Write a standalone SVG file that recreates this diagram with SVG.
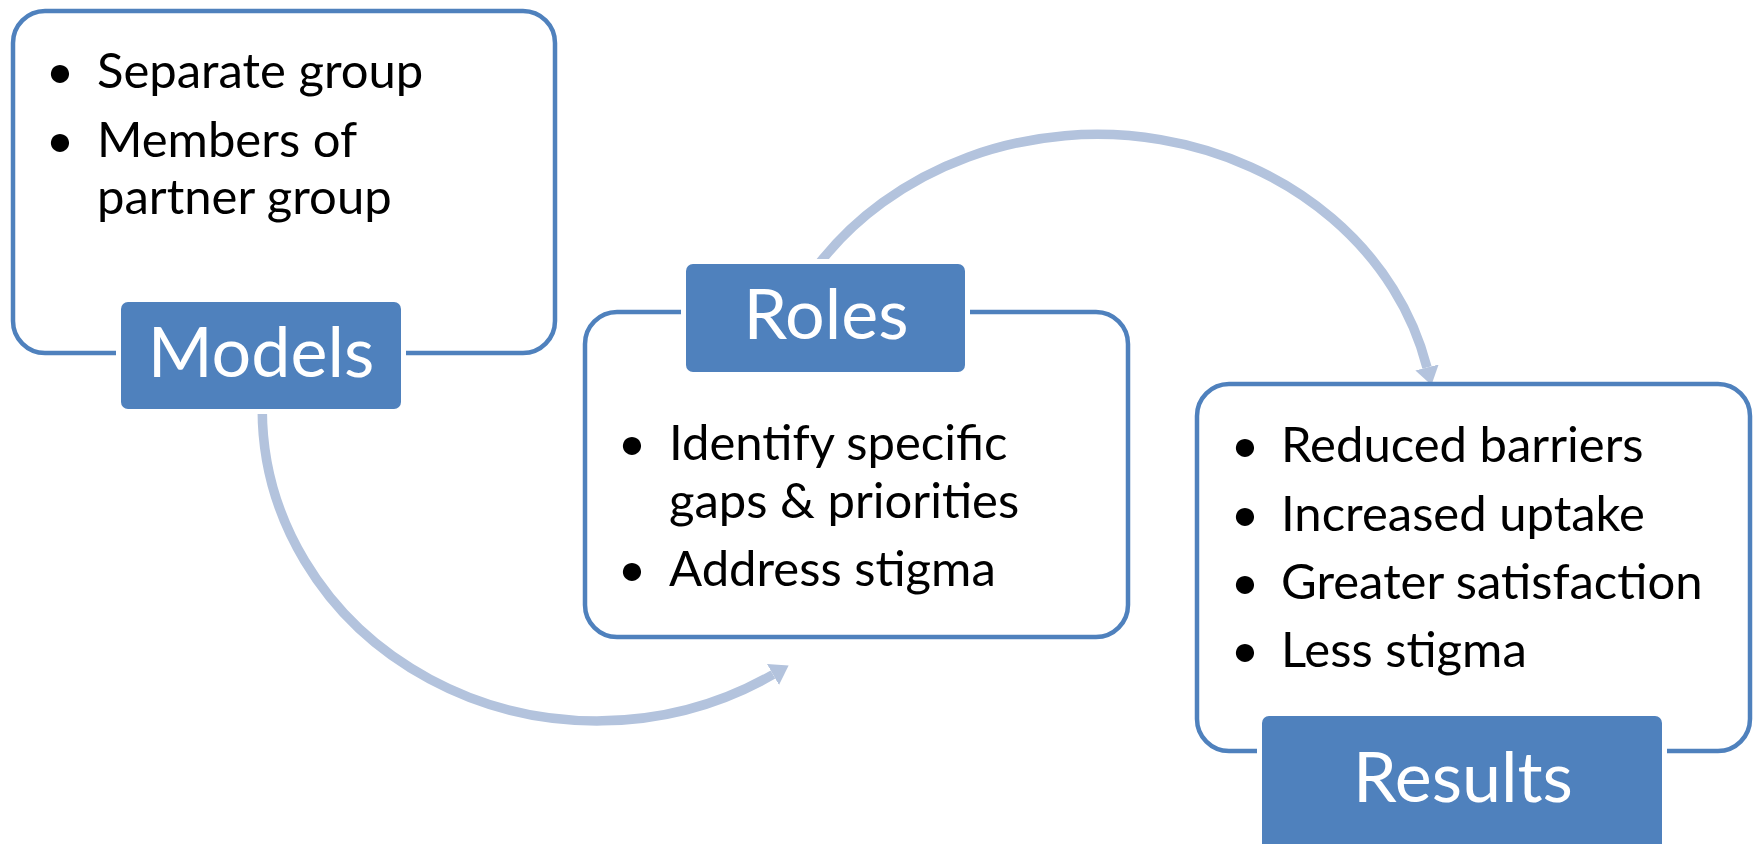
<svg xmlns="http://www.w3.org/2000/svg" width="1758" height="844" viewBox="0 0 1758 844">
<defs>
<style>
.box{fill:#fff;stroke:#4F81BD;stroke-width:4.5}
.lbl{fill:#4F81BD;stroke:#fff;stroke-width:10;paint-order:stroke}
.lt{font-family:Lato,"Liberation Sans",sans-serif;font-size:70px;fill:#fff;text-anchor:middle}
.bt{font-family:Lato,"Liberation Sans",sans-serif;font-size:49px;fill:#000}
.bu{font-family:Lato,"Liberation Sans",sans-serif;font-size:49px;fill:#000;text-anchor:middle}
.conn{fill:none;stroke:#B3C3DD;stroke-width:9.5}
</style>
<marker id="ah" markerUnits="userSpaceOnUse" markerWidth="19" markerHeight="26" viewBox="0 0 19 26" refX="0" refY="13" orient="auto">
<path d="M0,1 L18,13 L0,25 Z" fill="#B3C3DD"/>
</marker>
</defs>
<rect width="1758" height="844" fill="#fff"/>
<g id="connectors">
<path class="conn" d="M262.4,400 A335,312 0 0 0 773,674.5" marker-end="url(#ah)"/>
<path class="conn" d="M818,265 A338,299 0 0 1 1427,367.5" marker-end="url(#ah)"/>
</g>
<g id="models">
<rect class="box" x="13" y="11" width="542" height="342" rx="32"/>
<text class="bu" x="60" y="88">•</text>
<text class="bt" x="97" y="88">Separate group</text>
<text class="bu" x="60" y="157">•</text>
<text class="bt" x="97" y="157">Members of</text>
<text class="bt" x="97" y="214">partner group</text>
<rect class="lbl" x="121" y="302" width="280" height="107" rx="7"/>
<text class="lt" x="261" y="377">Models</text>
</g>
<g id="roles">
<rect class="box" x="585" y="312" width="543" height="325" rx="32"/>
<rect class="lbl" x="686" y="264" width="279" height="108" rx="7"/>
<text class="lt" x="826" y="339">Roles</text>
<text class="bu" x="632" y="460">•</text>
<text class="bt" x="669" y="460">Identify specific</text>
<text class="bt" x="669" y="518">gaps &amp; priorities</text>
<text class="bu" x="632" y="586">•</text>
<text class="bt" x="669" y="586">Address stigma</text>
</g>
<g id="results">
<rect class="box" x="1197" y="384" width="553" height="367" rx="32"/>
<text class="bu" x="1245" y="462">•</text>
<text class="bt" x="1281" y="462">Reduced barriers</text>
<text class="bu" x="1245" y="531">•</text>
<text class="bt" x="1281" y="531">Increased uptake</text>
<text class="bu" x="1245" y="599">•</text>
<text class="bt" x="1281" y="599">Greater satisfaction</text>
<text class="bu" x="1245" y="667">•</text>
<text class="bt" x="1281" y="667">Less stigma</text>
<rect class="lbl" x="1262" y="716" width="400" height="140" rx="7"/>
<text class="lt" x="1463" y="802">Results</text>
</g>
</svg>
